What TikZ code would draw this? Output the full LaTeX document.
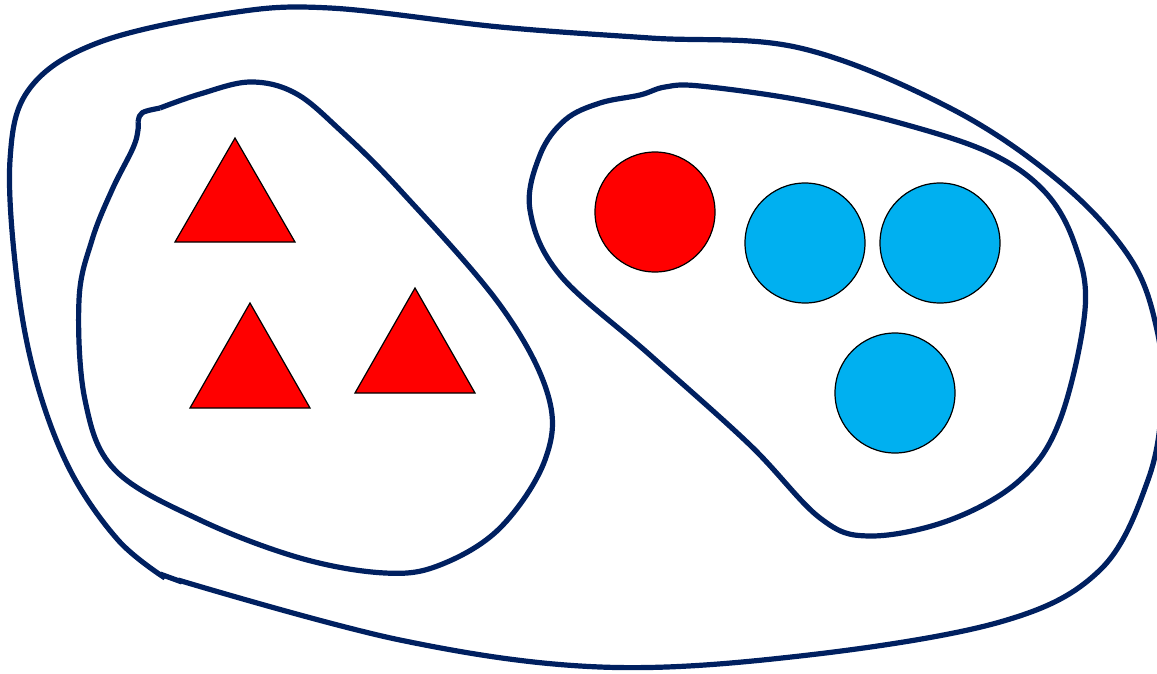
\documentclass[tikz,border=0pt]{standalone}
\begin{document}
\begin{tikzpicture}[x=1pt,y=-1pt,
  blob/.style={draw={rgb,255:red,0;green,32;blue,96}, line width=5.2pt, line join=round},
  tri/.style={fill={rgb,255:red,255;green,0;blue,0}, draw=black, line width=1.2pt},
  redc/.style={circle, minimum size=120pt, inner sep=0pt, fill={rgb,255:red,255;green,0;blue,0}, draw=black, line width=1.2pt},
  bluec/.style={circle, minimum size=120pt, inner sep=0pt, fill={rgb,255:red,0;green,176;blue,240}, draw=black, line width=1.2pt}]
\useasboundingbox (0,0) rectangle (1157,673);
% outer blob
\draw[blob] plot[smooth, tension=0.6] coordinates {(178,580) (400,640) (600,667) (800,656) (1000,622) (1100,570) (1148,480) (1162,400) (1157,330) (1130,258) (1060,182) (950,108) (800,48) (650,38) (500,27) (330,8) (230,13) (100,42) (30,88) (10,160) (17,280) (36,380) (70,470) (118,540) (165,578)};
\draw[blob] (160,574) -- (182,582);
% left blob
\draw[blob] plot[smooth, tension=0.6] coordinates {(160,108) (200,94) (250,82) (295,93) (340,130) (400,190) (500,305) (548,395) (545,460) (500,528) (440,565) (385,573) (300,558) (200,520) (115,470) (85,400) (79,300) (92,240) (112,190) (133,148) (138,130) (138,122)};
\draw[blob] (138,122) .. controls (140,112) .. (160,108);
% right blob
\draw[blob] plot[smooth cycle, tension=0.6] coordinates {(565,120) (600,103) (640,95) (665,87) (700,86) (800,100) (900,123) (990,153) (1045,192) (1075,245) (1085,310) (1060,420) (1020,480) (950,520) (870,536) (820,518) (750,445) (650,355) (560,275) (530,210) (540,155)};
% triangles
\path[tri] (235,138) -- (295,242) -- (175,242) -- cycle;
\path[tri] (250,303) -- (310,408) -- (190,408) -- cycle;
\path[tri] (415,288) -- (475,393) -- (355,393) -- cycle;
% circles
\node[redc] (r1) at (655,212) {};
\node[bluec] (b1) at (805,243) {};
\node[bluec] (b2) at (940,243) {};
\node[bluec] (b3) at (895,393) {};
\end{tikzpicture}
\end{document}
